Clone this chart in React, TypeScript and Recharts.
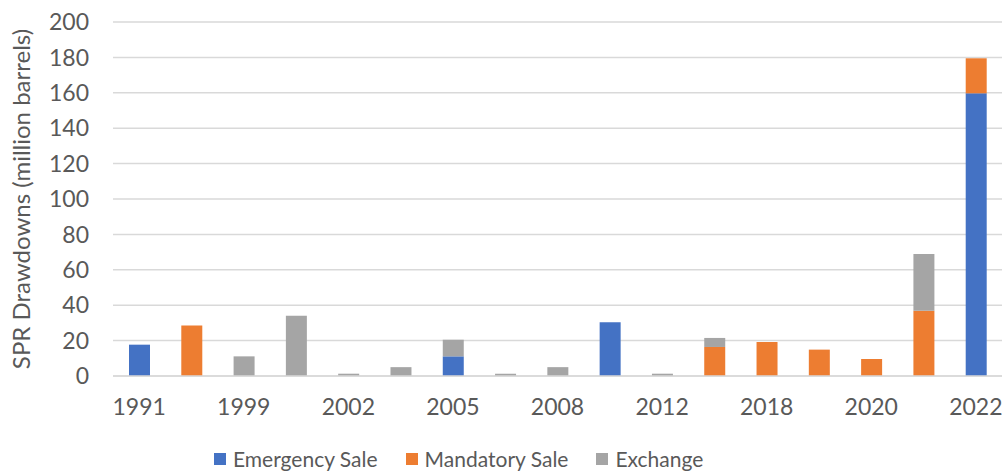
import { BarChart, Bar, XAxis, YAxis, CartesianGrid, Legend } from 'recharts';

const years = ['1991', '1996', '1999', '2000', '2002', '2004', '2005', '2006', '2008', '2011', '2012', '2017', '2018', '2019', '2020', '2021', '2022'];
const emergencySale = [17.7, 0, 0, 0, 0, 0, 11.1, 0, 0, 30.3, 0, 0, 0, 0, 0, 0, 159.7];
const mandatorySale = [0, 28.6, 0, 0, 0, 0, 0, 0, 0, 0, 0, 16.4, 19.2, 14.9, 9.6, 36.9, 19.8];
const exchange = [0, 0, 11.1, 34, 1.3, 5, 9.4, 1.3, 5, 0, 1.3, 5.1, 0, 0, 0, 32, 0];
const yTicks = [0, 20, 40, 60, 80, 100, 120, 140, 160, 180, 200];

const SERIES = [
  { key: 'emergency', name: 'Emergency Sale', color: '#4472C4' },
  { key: 'mandatory', name: 'Mandatory Sale', color: '#ED7D31' },
  { key: 'exchange', name: 'Exchange', color: '#A5A5A5' },
];

const FONT = 'Lato, "Open Sans", sans-serif';
const TEXT = '#595959';

const data = years.map((year, i) => ({
  year,
  emergency: emergencySale[i],
  mandatory: mandatorySale[i],
  exchange: exchange[i],
}));

// legend drawn in series order (recharts sorts the payload by name otherwise)
function LegendContent() {
  return (
    <div
      style={{
        display: 'flex',
        alignItems: 'center',
        boxSizing: 'border-box',
        height: 30,
        paddingTop: 4,
        paddingLeft: 214,
        fontFamily: FONT,
        fontSize: 21,
        lineHeight: '24px',
        color: TEXT,
      }}
    >
      {SERIES.map((s) => (
        <div key={s.key} style={{ display: 'flex', alignItems: 'center', marginRight: 28 }}>
          <span style={{ width: 12, height: 12, background: s.color, marginRight: 7, display: 'inline-block' }} />
          <span>{s.name}</span>
        </div>
      ))}
    </div>
  );
}

export default function App() {
  return (
    <div style={{ position: 'absolute', left: 0, top: 0, width: 1005, height: 472, background: '#fff' }}>
      <BarChart
        width={1005}
        height={472}
        data={data}
        margin={{ top: 22, right: 3, left: 0, bottom: 0 }}
        barSize={21}
      >
        <CartesianGrid vertical={false} stroke="#d9d9d9" strokeWidth={1.5} />
        <XAxis
          dataKey="year"
          interval={1}
          height={66}
          tickLine={false}
          tickSize={0}
          tickMargin={23}
          axisLine={{ stroke: '#d9d9d9', strokeWidth: 1.5 }}
          tick={{ fill: TEXT, fontSize: 23, fontFamily: FONT }}
        />
        <YAxis
          width={113}
          domain={[0, 200]}
          ticks={yTicks}
          tickLine={false}
          axisLine={false}
          tickSize={0}
          tickMargin={24}
          tick={{ fill: TEXT, fontSize: 23, fontFamily: FONT }}
          label={{
            value: 'SPR Drawdowns (million barrels)',
            angle: -90,
            position: 'center',
            dx: -35,
            style: { fill: TEXT, fontSize: 24, fontFamily: FONT, textAnchor: 'middle' },
          }}
        />
        <Legend
          verticalAlign="bottom"
          height={30}
          wrapperStyle={{ left: 0, width: 1005 }}
          content={<LegendContent />}
        />
        {SERIES.map((s) => (
          <Bar key={s.key} dataKey={s.key} name={s.name} stackId="a" fill={s.color} isAnimationActive={false} />
        ))}
      </BarChart>
    </div>
  );
}
